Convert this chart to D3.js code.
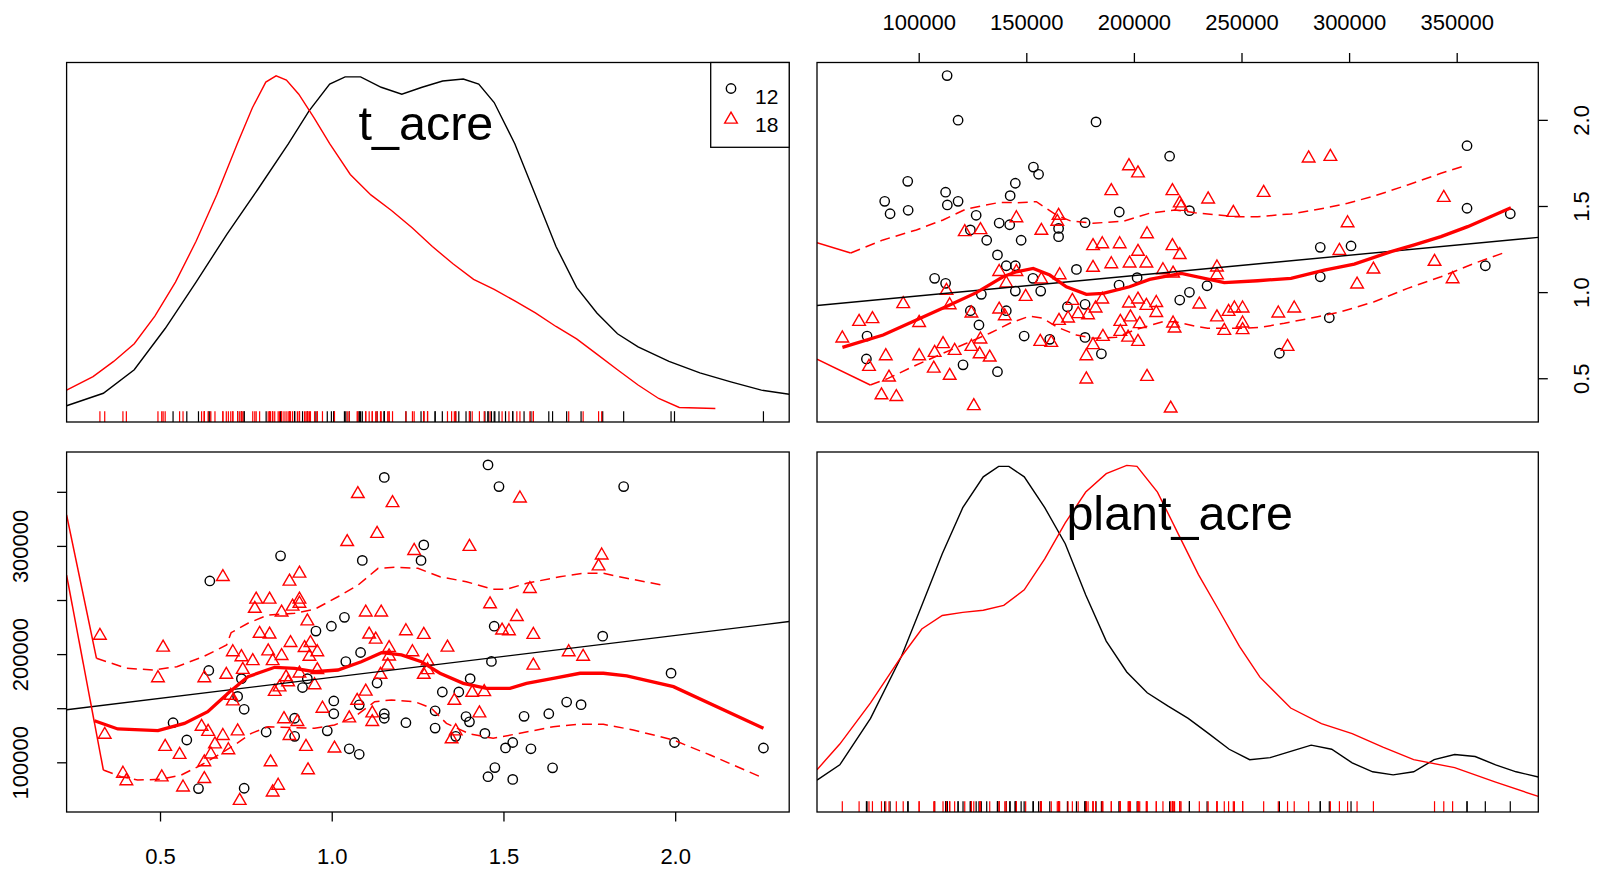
<!DOCTYPE html>
<html>
<head>
<meta charset="utf-8">
<script src="https://cdn.jsdelivr.net/npm/d3@7"></script>
<style>
body { margin: 0; background: #fff; }
svg text { font-family: "Liberation Sans", Arial, Helvetica, sans-serif; }
</style>
</head>
<body>
<div id="chart"></div>
<script>
// ---- data ----
// group "12" (black circles)
var plant12 = [113200,118300,182400,216600,94900,84200,86700,95100,112500,113300,118300,126700,124000,131600,137400,142300,142500,144900,153300,155700,147600,165000,165000,177300,193200,354800,354800,374900,225800,136600,140700,144900,107400,112500,129100,144900,153100,156700,173300,124000,140700,128000,76000,75700,120600,136600,149000,160900,169100,177300,177300,184900,193100,201500,221300,286600,300900,286600,234000,225800,363300,290800,267600];
var tacre12 = [2.257,1.998,1.988,1.789,1.643,1.527,1.455,1.475,1.580,1.506,1.527,1.446,1.361,1.301,1.401,1.391,1.560,1.632,1.726,1.684,1.301,1.370,1.322,1.403,1.465,1.850,1.487,1.455,1.473,1.216,1.153,1.153,1.080,1.051,0.987,1.006,1.080,1.006,1.132,0.892,0.892,0.809,0.745,0.612,0.578,0.538,0.745,0.726,0.915,0.929,0.737,0.642,1.041,1.084,0.954,1.260,1.268,1.089,1.037,0.999,1.153,0.851,0.645];

// group "18" (red triangles)
var plant18 = [197700,201900,189500,217900,221300,145400,165000,164400,157000,121400,128700,206100,281200,291300,260300,234500,246200,221900,344000,299300,
  181000,185300,193400,217900,201900,221300,198000,205800,189500,181000,213500,218200,137400,145400,165500,157000,140700,112900,149700,92800,
  114400,171400,185300,201900,197700,205800,210400,182200,137400,124500,140000,174100,178700,210400,72300,78500,100200,165200,169400,193700,
  198400,202700,218200,218900,193700,197300,201900,185600,64500,128700,156500,161600,181000,111300,107400,116700,124500,128300,133000,84700,
  100200,177900,76900,107000,114400,86200,177900,206100,82700,89600,125600,217100,295500,238600,238600,339700,311300,303700,348100,230400,
  238600,244000,246700,250500,250500,250500,242000,267100,274500,271400];
var tacre18 = [1.732,1.690,1.587,1.587,1.516,1.430,1.444,1.409,1.357,1.349,1.361,1.337,1.777,1.786,1.577,1.539,1.461,1.496,1.548,1.401,
  1.268,1.279,1.279,1.268,1.235,1.216,1.167,1.167,1.163,1.142,1.128,1.109,1.118,1.118,1.099,1.074,1.051,1.008,0.973,0.931,
  0.925,0.950,0.958,0.958,0.935,0.921,0.938,0.906,0.900,0.877,0.861,0.873,0.867,0.880,0.828,0.844,0.822,0.834,0.848,0.828,
  0.854,0.815,0.819,0.790,0.770,0.737,0.712,0.741,0.732,0.726,0.712,0.706,0.693,0.699,0.648,0.660,0.683,0.640,0.621,0.629,
  0.629,0.629,0.567,0.557,0.515,0.505,0.494,0.509,0.402,0.392,0.339,0.325,1.240,1.144,1.099,1.177,1.132,1.045,1.076,0.929,
  0.854,0.886,0.906,0.906,0.819,0.780,0.776,0.877,0.906,0.683];

// axis limits and ticks
var tLimX = [0.228, 2.332];
var tLimY = [0.246, 2.333];
var plantLimX = [52740, 387920];
var plantLimY = [54070, 386800];
var densLim = [0, 1.0386];
var tTicks = [0.5, 1.0, 1.5, 2.0];
var plantTicks = [100000, 150000, 200000, 250000, 300000, 350000];
var plantLeftLabels = [100000, 200000, 300000];
var groups = ["12", "18"];

// relative densities (adaptive kernel), [value, density]
var densT12 = [[0.228,0.047],[0.335,0.083],[0.425,0.151],[0.515,0.270],[0.605,0.404],[0.695,0.543],[0.784,0.671],[0.874,0.804],[0.934,0.899],[0.994,0.976],[1.039,0.997],[1.084,0.997],[1.144,0.967],[1.204,0.947],[1.263,0.967],[1.323,0.985],[1.383,0.991],[1.428,0.976],[1.473,0.923],[1.533,0.804],[1.593,0.656],[1.653,0.507],[1.713,0.389],[1.772,0.315],[1.832,0.255],[1.892,0.217],[1.982,0.175],[2.072,0.142],[2.162,0.116],[2.251,0.092],[2.332,0.080]];
var densT18 = [[0.228,0.092],[0.305,0.131],[0.365,0.175],[0.425,0.226],[0.485,0.306],[0.545,0.404],[0.605,0.522],[0.665,0.656],[0.725,0.804],[0.769,0.908],[0.808,0.982],[0.838,1.0],[0.868,0.988],[0.904,0.947],[0.949,0.878],[0.994,0.804],[1.054,0.715],[1.114,0.656],[1.174,0.611],[1.234,0.561],[1.293,0.507],[1.353,0.457],[1.413,0.412],[1.473,0.383],[1.533,0.350],[1.593,0.315],[1.653,0.276],[1.713,0.240],[1.772,0.196],[1.832,0.151],[1.892,0.107],[1.952,0.068],[2.012,0.042],[2.117,0.039]];
var densP12 = [[52740,0.092],[63333,0.136],[77619,0.270],[91905,0.448],[101429,0.596],[110952,0.745],[120476,0.878],[130000,0.967],[137143,0.997],[141905,0.997],[149048,0.967],[158571,0.878],[168095,0.774],[177619,0.626],[187143,0.493],[196667,0.404],[206190,0.344],[215714,0.306],[225238,0.270],[234762,0.226],[244286,0.181],[253810,0.151],[263333,0.157],[272857,0.175],[282381,0.193],[291905,0.181],[301429,0.142],[310952,0.116],[320476,0.107],[330000,0.116],[339524,0.151],[349048,0.166],[358571,0.160],[368095,0.136],[377619,0.116],[387920,0.101]];
var densP18 = [[52740,0.122],[63333,0.196],[77619,0.315],[91905,0.448],[101429,0.528],[110952,0.567],[120476,0.576],[130000,0.582],[139524,0.596],[149048,0.641],[158571,0.730],[168095,0.834],[177619,0.923],[187143,0.976],[196667,1.0],[201429,0.997],[210952,0.923],[220476,0.804],[230000,0.685],[239524,0.582],[249048,0.478],[258571,0.389],[272857,0.300],[287143,0.255],[301429,0.226],[315714,0.187],[330000,0.151],[349048,0.128],[368095,0.086],[387920,0.045]];

// loess smooth and spread, t_acre vs plant_acre  [plant, t]
var smoothTP = [[64550,0.679],[83460,0.751],[98930,0.838],[114400,0.925],[126800,0.997],[139200,1.089],[145400,1.118],[153200,1.138],[160900,1.099],[168600,1.031],[177900,0.987],[185700,0.993],[198000,1.031],[207300,1.074],[222000,1.109],[242000,1.055],[257500,1.066],[273000,1.080],[288500,1.128],[302400,1.163],[319500,1.235],[330300,1.274],[342700,1.322],[355100,1.380],[375200,1.490]];
var upperTP = [[52740,1.287],[68400,1.227],[83460,1.303],[98930,1.361],[111300,1.419],[122200,1.483],[137600,1.521],[145400,1.519],[154700,1.525],[163900,1.448],[170200,1.415],[181000,1.400],[195000,1.411],[207300,1.458],[219100,1.477],[228400,1.461],[246700,1.438],[257500,1.438],[273000,1.454],[288500,1.487],[299300,1.516],[311700,1.558],[327200,1.622],[342700,1.690],[353500,1.732]];
var lowerTP = [[52740,0.611],[77500,0.461],[85780,0.499],[98930,0.577],[111300,0.645],[122200,0.703],[133000,0.761],[142300,0.819],[151600,0.861],[157800,0.848],[164000,0.799],[173300,0.751],[181000,0.732],[191900,0.738],[201100,0.784],[213500,0.828],[219100,0.828],[228400,0.803],[234300,0.790],[249800,0.790],[259100,0.796],[269900,0.819],[285400,0.857],[296200,0.886],[311700,0.944],[327200,1.022],[342700,1.089],[358200,1.167],[372100,1.229]];

// loess smooth and spread, plant_acre vs t_acre  [t, plant]
var smoothPT = [[0.309,138400],[0.377,130800],[0.494,129200],[0.571,136000],[0.639,146800],[0.698,163800],[0.756,179100],[0.834,187800],[0.892,186900],[0.950,183700],[1.018,185300],[1.086,193000],[1.145,201300],[1.203,199200],[1.261,193000],[1.315,182300],[1.383,173000],[1.451,168400],[1.519,168400],[1.567,173000],[1.645,177600],[1.723,182300],[1.791,182300],[1.859,179800],[1.995,169900],[2.257,131400]];
var upperPT = [[0.228,328600],[0.315,196100],[0.403,186900],[0.480,185300],[0.549,188400],[0.626,197600],[0.694,208400],[0.707,219800],[0.756,228500],[0.814,236100],[0.892,237700],[0.950,241400],[1.018,253000],[1.077,263900],[1.135,279300],[1.183,280200],[1.251,279300],[1.315,271500],[1.392,266900],[1.470,259900],[1.509,259900],[1.567,265400],[1.664,271500],[1.733,274700],[1.791,274700],[1.859,270100],[1.961,263900]];
var lowerPT = [[0.228,273100],[0.335,92900],[0.387,86700],[0.435,83600],[0.503,84300],[0.562,88300],[0.620,97500],[0.669,106700],[0.717,116000],[0.766,126800],[0.814,132900],[0.892,132000],[0.950,131400],[1.008,134500],[1.067,142100],[1.125,156000],[1.174,157600],[1.242,156000],[1.290,150000],[1.334,136000],[1.402,126200],[1.470,122200],[1.548,126800],[1.645,132900],[1.713,135100],[1.791,135100],[1.878,129900],[1.995,120600],[2.102,106700],[2.248,86700]];

// ---- layout ----
var w = 1607, h = 877;
var colors = {"12": "#000000", "18": "#ff0000"};
var symR = 4.7;

var left = {x0: 66.6, x1: 789.2}, right = {x0: 817, x1: 1538.3};
var top_ = {y0: 62.5, y1: 422}, bottom = {y0: 452, y1: 812};

var xT = d3.scaleLinear().domain(tLimX).range([left.x0, left.x1]);
var yT = d3.scaleLinear().domain(tLimY).range([top_.y1, top_.y0]);
var xP = d3.scaleLinear().domain(plantLimX).range([right.x0, right.x1]);
var yP = d3.scaleLinear().domain(plantLimY).range([bottom.y1, bottom.y0]);
var yDtop = d3.scaleLinear().domain(densLim).range([top_.y1, top_.y0]);
var yDbot = d3.scaleLinear().domain(densLim).range([bottom.y1, bottom.y0]);

var pts = [];
plant12.forEach(function (p, i) { pts.push({g: "12", plant: p, t: tacre12[i]}); });
plant18.forEach(function (p, i) { pts.push({g: "18", plant: p, t: tacre18[i]}); });

var svg = d3.select("#chart").append("svg")
    .attr("width", w)
    .attr("height", h)
    .style("background", "#fff");

function addClip(id, box, vbox) {
    svg.append("clipPath").attr("id", id)
      .append("rect")
      .attr("x", box.x0).attr("y", vbox.y0)
      .attr("width", box.x1 - box.x0).attr("height", vbox.y1 - vbox.y0);
}
addClip("clipTL", left, top_);
addClip("clipTR", right, top_);
addClip("clipBL", left, bottom);
addClip("clipBR", right, bottom);

function ols(xs, ys) {
    var mx = d3.mean(xs), my = d3.mean(ys);
    var sxy = d3.sum(xs, function (x, i) { return (x - mx) * (ys[i] - my); });
    var sxx = d3.sum(xs, function (x) { return (x - mx) * (x - mx); });
    var b = sxy / sxx;
    return {a: my - b * mx, b: b};
}

function drawSymbols(g, data, fx, fy) {
    g.selectAll("path.pt")
      .data(data)
      .enter()
      .append("path")
      .attr("class", "pt")
      .attr("d", function (d) {
          return d3.symbol().type(d.g == "12" ? d3.symbolCircle : d3.symbolTriangle).size(Math.PI * symR * symR)();
      })
      .attr("transform", function (d) { return "translate(" + fx(d) + "," + fy(d) + ")"; })
      .style("fill", "none")
      .style("stroke", function (d) { return colors[d.g]; })
      .style("stroke-width", 1.4);
}

function drawSpread(g, arr, line) {
    // first segment from the panel edge is drawn solid, the rest dashed
    g.append("path").attr("d", line(arr.slice(0, 2)))
      .style("fill", "none").style("stroke", colors["18"]).style("stroke-width", 1.5);
    g.append("path").attr("d", line(arr.slice(1)))
      .style("fill", "none").style("stroke", colors["18"]).style("stroke-width", 1.5)
      .style("stroke-dasharray", "10,6");
}

// ---------- top-right: t_acre vs plant_acre ----------
var gTR = svg.append("g");
drawSymbols(gTR, pts, function (d) { return xP(d.plant); }, function (d) { return yT(d.t); });
var fitTP = ols(pts.map(function (d) { return d.plant; }), pts.map(function (d) { return d.t; }));
var gTRl = gTR.append("g").attr("clip-path", "url(#clipTR)");
gTRl.append("line")
    .attr("x1", xP(plantLimX[0])).attr("y1", yT(fitTP.a + fitTP.b * plantLimX[0]))
    .attr("x2", xP(plantLimX[1])).attr("y2", yT(fitTP.a + fitTP.b * plantLimX[1]))
    .style("stroke", "#000").style("stroke-width", 1.4);
var lineTP = d3.line().x(function (d) { return xP(d[0]); }).y(function (d) { return yT(d[1]); });
gTRl.append("path").attr("d", lineTP(smoothTP))
    .style("fill", "none").style("stroke", colors["18"]).style("stroke-width", 3.3);
drawSpread(gTRl, upperTP, lineTP);
drawSpread(gTRl, lowerTP, lineTP);

// ---------- bottom-left: plant_acre vs t_acre ----------
var gBL = svg.append("g");
drawSymbols(gBL, pts, function (d) { return xT(d.t); }, function (d) { return yP(d.plant); });
var fitPT = ols(pts.map(function (d) { return d.t; }), pts.map(function (d) { return d.plant; }));
var gBLl = gBL.append("g").attr("clip-path", "url(#clipBL)");
gBLl.append("line")
    .attr("x1", xT(tLimX[0])).attr("y1", yP(fitPT.a + fitPT.b * tLimX[0]))
    .attr("x2", xT(tLimX[1])).attr("y2", yP(fitPT.a + fitPT.b * tLimX[1]))
    .style("stroke", "#000").style("stroke-width", 1.4);
var linePT = d3.line().x(function (d) { return xT(d[0]); }).y(function (d) { return yP(d[1]); });
gBLl.append("path").attr("d", linePT(smoothPT))
    .style("fill", "none").style("stroke", colors["18"]).style("stroke-width", 3.3);
drawSpread(gBLl, upperPT, linePT);
drawSpread(gBLl, lowerPT, linePT);

// ---------- diagonal: densities + rugs ----------
var rugLen = 10.8;
var gTL = svg.append("g").attr("clip-path", "url(#clipTL)");
var lineDT = d3.line().x(function (d) { return xT(d[0]); }).y(function (d) { return yDtop(d[1]); });
[["12", densT12], ["18", densT18]].forEach(function (s) {
    gTL.append("path").attr("d", lineDT(s[1]))
      .style("fill", "none").style("stroke", colors[s[0]]).style("stroke-width", 1.4);
});
groups.forEach(function (g) {
    gTL.selectAll("line.rug" + g)
      .data(pts.filter(function (d) { return d.g == g; }))
      .enter().append("line")
      .attr("class", "rug" + g)
      .attr("x1", function (d) { return xT(d.t); }).attr("x2", function (d) { return xT(d.t); })
      .attr("y1", top_.y1).attr("y2", top_.y1 - rugLen)
      .style("stroke", colors[g]).style("stroke-width", 1.2);
});

var gBR = svg.append("g").attr("clip-path", "url(#clipBR)");
var lineDP = d3.line().x(function (d) { return xP(d[0]); }).y(function (d) { return yDbot(d[1]); });
[["12", densP12], ["18", densP18]].forEach(function (s) {
    gBR.append("path").attr("d", lineDP(s[1]))
      .style("fill", "none").style("stroke", colors[s[0]]).style("stroke-width", 1.4);
});
groups.forEach(function (g) {
    gBR.selectAll("line.rug" + g)
      .data(pts.filter(function (d) { return d.g == g; }))
      .enter().append("line")
      .attr("class", "rug" + g)
      .attr("x1", function (d) { return xP(d.plant); }).attr("x2", function (d) { return xP(d.plant); })
      .attr("y1", bottom.y1).attr("y2", bottom.y1 - rugLen)
      .style("stroke", colors[g]).style("stroke-width", 1.2);
});

// diagonal labels
svg.append("text").text("t_acre")
    .attr("x", (left.x0 + left.x1) / 2 - 2).attr("y", 140.4)
    .attr("text-anchor", "middle").style("font-size", "48.5px");
svg.append("text").text("plant_acre")
    .attr("x", (right.x0 + right.x1) / 2 + 2).attr("y", 530)
    .attr("text-anchor", "middle").style("font-size", "48.5px");

// ---------- panel borders ----------
[[left, top_], [right, top_], [left, bottom], [right, bottom]].forEach(function (p) {
    svg.append("rect")
      .attr("x", p[0].x0).attr("y", p[1].y0)
      .attr("width", p[0].x1 - p[0].x0).attr("height", p[1].y1 - p[1].y0)
      .style("fill", "none").style("stroke", "#000").style("stroke-width", 1.3);
});

// ---------- axes ----------
var fmtP = d3.format("d"), fmtT = d3.format(".1f");
function styleAxis(g) {
    g.select(".domain").remove();
    g.attr("font-family", null).attr("font-size", null);
    g.selectAll("line").style("stroke", "#000").style("stroke-width", 1.3);
    g.selectAll("text").style("font-size", "22px").style("fill", "#000");
}

svg.append("g").attr("transform", "translate(0," + top_.y0 + ")")
    .call(d3.axisTop(xP).tickValues(plantTicks).tickFormat(fmtP).tickSize(9.5).tickPadding(23))
    .call(styleAxis);

svg.append("g").attr("transform", "translate(0," + bottom.y1 + ")")
    .call(d3.axisBottom(xT).tickValues(tTicks).tickFormat(fmtT).tickSize(9.5).tickPadding(27))
    .call(styleAxis);

svg.append("g").attr("transform", "translate(" + right.x1 + ",0)")
    .call(d3.axisRight(yT).tickValues(tTicks).tickFormat(fmtT).tickSize(9.5))
    .call(styleAxis)
    .selectAll("text")
    .attr("x", 0).attr("y", 50.7).attr("dy", 0)
    .attr("transform", "rotate(-90)")
    .attr("text-anchor", "middle");

svg.append("g").attr("transform", "translate(" + left.x0 + ",0)")
    .call(d3.axisLeft(yP).tickValues(plantTicks)
      .tickFormat(function (d) { return plantLeftLabels.indexOf(d) >= 0 ? fmtP(d) : ""; })
      .tickSize(9.5))
    .call(styleAxis)
    .selectAll("text")
    .attr("x", 0).attr("y", -38.2).attr("dy", 0)
    .attr("transform", "rotate(-90)")
    .attr("text-anchor", "middle");

// ---------- legend ----------
var lg = svg.append("g");
lg.append("rect")
    .attr("x", 710.7).attr("y", top_.y0)
    .attr("width", left.x1 - 710.7).attr("height", 147.3 - top_.y0)
    .style("fill", "#fff").style("stroke", "#000").style("stroke-width", 1.3);
var legItems = lg.selectAll("g.item")
    .data(groups)
    .enter().append("g")
    .attr("class", "item")
    .attr("transform", function (d, i) { return "translate(731," + (88.5 + i * 31) + ")"; });
legItems.append("path")
    .attr("d", function (d) {
        return d3.symbol().type(d == "12" ? d3.symbolCircle : d3.symbolTriangle).size(Math.PI * symR * symR)();
    })
    .style("fill", "none")
    .style("stroke", function (d) { return colors[d]; })
    .style("stroke-width", 1.4);
legItems.append("text")
    .text(function (d) { return d; })
    .attr("x", 24).attr("y", function (d, i) { return 15.4 - i * 3.4; })
    .style("font-size", "21px");
</script>
</body>
</html>
